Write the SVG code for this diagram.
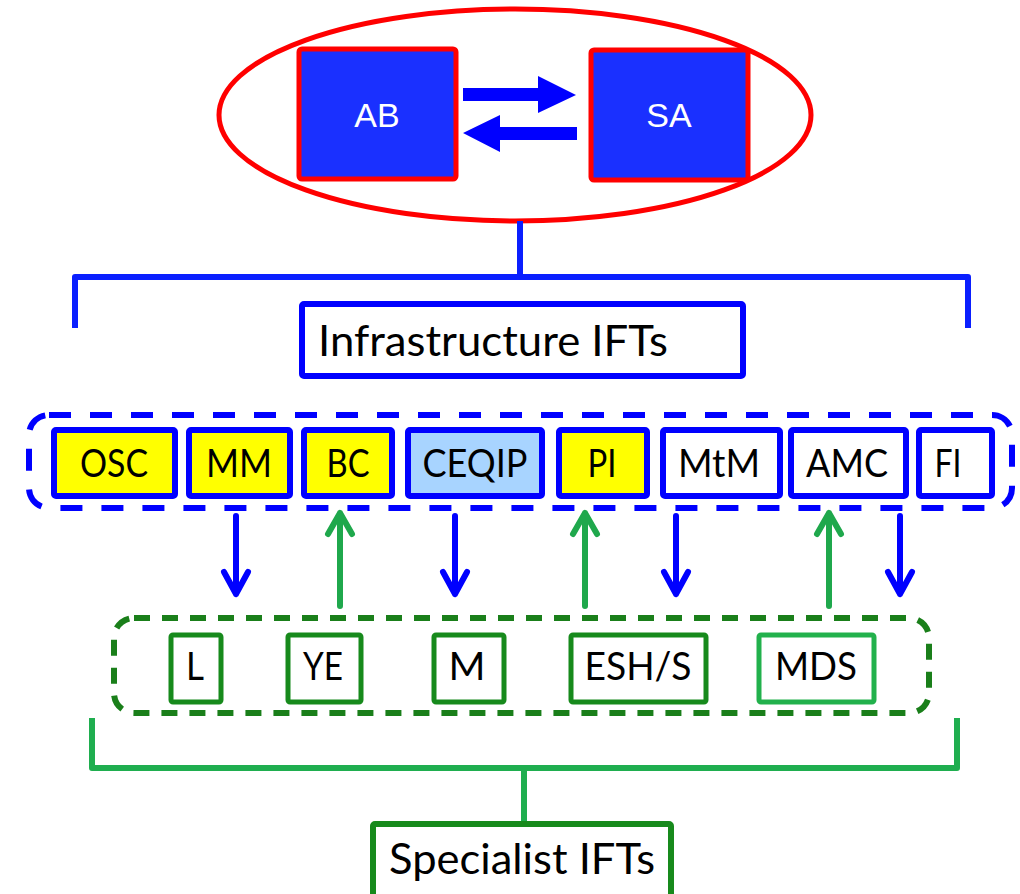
<svg xmlns="http://www.w3.org/2000/svg" width="1020" height="894" viewBox="0 0 1020 894">
  <style>
    .lbl { font-family: Lato, "Open Sans", sans-serif; fill: #000; text-anchor: middle; }
    .small { font-size: 38px; }
    .big { font-size: 43px; }
    .core { font-family: "Liberation Sans", Arial, sans-serif; font-size: 34px; fill: #fff; text-anchor: middle; }
    .infra { stroke: #0000ff; stroke-width: 6; }
    .spec { fill: #fff; stroke: #178a1c; stroke-width: 5; }
    .down { stroke: #0000ff; stroke-width: 6; fill: none; stroke-linecap: round; stroke-linejoin: round; }
    .up { stroke: #1fa84c; stroke-width: 6; fill: none; stroke-linecap: round; stroke-linejoin: round; }
  </style>

  <!-- governance ellipse with the two core bodies -->
  <g id="core">
    <ellipse cx="515" cy="115" rx="296" ry="106" fill="#fff" stroke="#ff0000" stroke-width="5"/>
    <g id="node-AB">
      <rect x="299" y="49" width="157" height="130" rx="3" fill="#1a30ff" stroke="#ff0000" stroke-width="5"/>
      <text class="core" x="377" y="127">AB</text>
    </g>
    <g id="node-SA">
      <rect x="591" y="50" width="157" height="130" rx="3" fill="#1a30ff" stroke="#ff0000" stroke-width="5"/>
      <text class="core" x="669" y="127">SA</text>
    </g>
    <!-- exchange arrows between AB and SA -->
    <polygon points="463,88 538,88 538,76 576,95 538,113 538,101 463,101" fill="#0000ff"/>
    <polygon points="577,127 500,127 500,115 463,133 500,152 500,140 577,140" fill="#0000ff"/>
  </g>

  <g id="connectors">
    <!-- blue bracket down to infrastructure group -->
    <path d="M520,221 V277 M75,328 V277 H968 V328" fill="none" stroke="#0a1fff" stroke-width="6" stroke-linejoin="round"/>
    <!-- green bracket down to specialist label -->
    <path d="M92,718 V768 H957 V718 M524,768 V823" fill="none" stroke="#1fae4f" stroke-width="6" stroke-linejoin="round"/>
    <!-- downward arrows (infrastructure to specialist) -->
    <path class="down" d="M236,516 V594 M224,572 L236,594 L248,572"/>
    <path class="down" d="M455,516 V594 M443,572 L455,594 L467,572"/>
    <path class="down" d="M676,516 V594 M664,572 L676,594 L688,572"/>
    <path class="down" d="M900,516 V594 M888,572 L900,594 L912,572"/>
    <!-- upward arrows (specialist to infrastructure) -->
    <path class="up" d="M340,606 V513 M328,534 L340,513 L352,534"/>
    <path class="up" d="M585,606 V513 M573,534 L585,513 L597,534"/>
    <path class="up" d="M829,606 V513 M817,534 L829,513 L841,534"/>
  </g>

  <g id="node-infrastructure">
    <rect x="302" y="304" width="441" height="72" rx="2" fill="#fff" stroke="#0000ff" stroke-width="6"/>
    <text class="lbl big" x="493" y="356" textLength="350" lengthAdjust="spacingAndGlyphs">Infrastructure IFTs</text>
  </g>

  <!-- infrastructure IFT group -->
  <g id="group-infrastructure">
    <rect x="29" y="415" width="983" height="93" rx="20" fill="none" stroke="#0000ff" stroke-width="6" stroke-dasharray="22 19"/>
    <g id="node-OSC">
      <rect class="infra" x="54" y="430" width="121" height="66" rx="2" fill="#ffff00"/>
      <text class="lbl small" x="114" y="477" textLength="68" lengthAdjust="spacingAndGlyphs">OSC</text>
    </g>
    <g id="node-MM">
      <rect class="infra" x="189" y="430" width="101" height="66" rx="2" fill="#ffff00"/>
      <text class="lbl small" x="239" y="477" textLength="66" lengthAdjust="spacingAndGlyphs">MM</text>
    </g>
    <g id="node-BC">
      <rect class="infra" x="304" y="430" width="88" height="66" rx="2" fill="#ffff00"/>
      <text class="lbl small" x="348" y="477" textLength="43" lengthAdjust="spacingAndGlyphs">BC</text>
    </g>
    <g id="node-CEQIP">
      <rect class="infra" x="408" y="430" width="134" height="66" rx="2" fill="#a8d4ff"/>
      <text class="lbl small" x="475" y="477" textLength="105" lengthAdjust="spacingAndGlyphs">CEQIP</text>
    </g>
    <g id="node-PI">
      <rect class="infra" x="559" y="430" width="88" height="66" rx="2" fill="#ffff00"/>
      <text class="lbl small" x="602" y="477" textLength="29" lengthAdjust="spacingAndGlyphs">PI</text>
    </g>
    <g id="node-MtM">
      <rect class="infra" x="663" y="430" width="117" height="66" rx="2" fill="#fff"/>
      <text class="lbl small" x="719" y="477" textLength="82" lengthAdjust="spacingAndGlyphs">MtM</text>
    </g>
    <g id="node-AMC">
      <rect class="infra" x="791" y="430" width="115" height="66" rx="2" fill="#fff"/>
      <text class="lbl small" x="847" y="477" textLength="82" lengthAdjust="spacingAndGlyphs">AMC</text>
    </g>
    <g id="node-FI">
      <rect class="infra" x="919" y="430" width="73" height="66" rx="2" fill="#fff"/>
      <text class="lbl small" x="948" y="477" textLength="27" lengthAdjust="spacingAndGlyphs">FI</text>
    </g>
  </g>

  <!-- specialist IFT group -->
  <g id="group-specialist">
    <rect x="114" y="618" width="815" height="95" rx="20" fill="none" stroke="#1a7f1a" stroke-width="6" stroke-dasharray="16 12"/>
    <g id="node-L">
      <rect class="spec" x="171" y="635" width="50" height="67" rx="2"/>
      <text class="lbl small" x="195" y="680" textLength="18" lengthAdjust="spacingAndGlyphs">L</text>
    </g>
    <g id="node-YE">
      <rect class="spec" x="288" y="635" width="73" height="67" rx="2"/>
      <text class="lbl small" x="323" y="680" textLength="40" lengthAdjust="spacingAndGlyphs">YE</text>
    </g>
    <g id="node-M">
      <rect class="spec" x="434" y="635" width="70" height="67" rx="2"/>
      <text class="lbl small" x="467" y="680" textLength="37" lengthAdjust="spacingAndGlyphs">M</text>
    </g>
    <g id="node-ESH-S">
      <rect class="spec" x="571" y="635" width="135" height="67" rx="2"/>
      <text class="lbl small" x="638" y="680" textLength="107" lengthAdjust="spacingAndGlyphs">ESH/S</text>
    </g>
    <g id="node-MDS">
      <rect class="spec" x="759" y="635" width="115" height="67" rx="2" style="stroke:#22b14c"/>
      <text class="lbl small" x="816" y="680" textLength="82" lengthAdjust="spacingAndGlyphs">MDS</text>
    </g>
  </g>

  <g id="node-specialist">
    <rect x="373" y="824" width="298" height="90" rx="2" fill="#fff" stroke="#178a1c" stroke-width="6"/>
    <text class="lbl big" x="522" y="874" textLength="266" lengthAdjust="spacingAndGlyphs">Specialist IFTs</text>
  </g>
</svg>
